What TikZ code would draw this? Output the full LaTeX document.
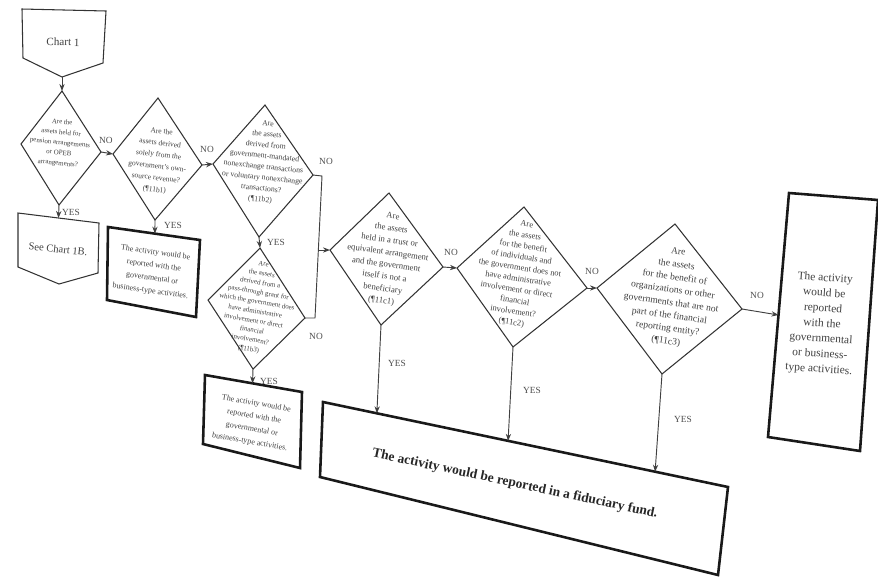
\documentclass[tikz,border=0pt]{standalone}
\usepackage{fontspec}
\setmainfont{Liberation Serif}
\usetikzlibrary{arrows.meta,calc}

\begin{document}
\begin{tikzpicture}[x=0.03cm,y=-0.03cm,
    >={Stealth[length=6pt,width=4.5pt]},
    outline/.style={draw=black!80, line width=0.9pt, line join=miter},
    heavy/.style={draw=black!90, line width=2.2pt, line join=miter},
    flow/.style={->, draw=black!75, line width=0.8pt},
    question/.style={align=center, text=black!75, inner sep=0pt},
    answer/.style={font=\fontsize{8}{9}\selectfont, text=black!70, inner sep=1pt}]
    \useasboundingbox (0,0) rectangle (878,579);
    % Chart 1 start tag
    \coordinate (c1-a) at (22,9); \coordinate (c1-b) at (106,11);
    \coordinate (c1-c) at (103,63); \coordinate (c1-s) at (62,77);
    \coordinate (c1-d) at (23,58);
    \draw[outline] (c1-a) -- (c1-b) -- (c1-c) -- (c1-s) -- (c1-d) -- cycle;
    \node[question, rotate=-1, font=\fontsize{9.5}{10}\selectfont] (c1-txt) at (63,42) {Chart 1};
    % Question 1: pension or OPEB
    \coordinate (q1-n) at (62,91); \coordinate (q1-e) at (101,152);
    \coordinate (q1-s) at (59,205); \coordinate (q1-w) at (21,144);
    \draw[outline] (q1-n) -- (q1-e) -- (q1-s) -- (q1-w) -- cycle;
    \node[question, rotate=-6, font=\fontsize{5.9}{8.8}\selectfont] (q1-txt) at (60,143)
        {Are the\\assets held for\\pension arrangements\\or OPEB\\arrangements?};
    % See Chart 1B tag
    \coordinate (c2-a) at (18,213); \coordinate (c2-b) at (99,223);
    \coordinate (c2-c) at (98,273); \coordinate (c2-s) at (59,284);
    \coordinate (c2-d) at (18,267);
    \draw[outline] (c2-a) -- (c2-b) -- (c2-c) -- (c2-s) -- (c2-d) -- cycle;
    \node[question, rotate=-6, font=\fontsize{9}{10}\selectfont] (c2-txt) at (58,249) {See Chart 1B.};
    % Question 2: own-source revenue
    \coordinate (q2-n) at (158,98); \coordinate (q2-e) at (202,165);
    \coordinate (q2-s) at (155,220); \coordinate (q2-w) at (113,154);
    \draw[outline] (q2-n) -- (q2-e) -- (q2-s) -- (q2-w) -- cycle;
    \node[question, rotate=-7, font=\fontsize{6.4}{10}\selectfont] (q2-txt) at (158,161)
        {Are the\\assets derived\\solely from the\\government's own-\\source revenue?\\(\P11b1)};
    % Box 1
    \coordinate (b1-nw) at (108,227); \coordinate (b1-ne) at (200,240);
    \coordinate (b1-se) at (196,317); \coordinate (b1-sw) at (107,300);
    \draw[heavy] (b1-nw) -- (b1-ne) -- (b1-se) -- (b1-sw) -- cycle;
    \node[question, rotate=-8, font=\fontsize{6.8}{11}\selectfont] (b1-txt) at (153,272)
        {The activity would be\\reported with the\\governmental or\\business-type activities.};
    % Question 3: nonexchange transactions
    \coordinate (q3-n) at (265,105); \coordinate (q3-e) at (313,175);
    \coordinate (q3-s) at (259,237); \coordinate (q3-w) at (213,164);
    \draw[outline] (q3-n) -- (q3-e) -- (q3-s) -- (q3-w) -- cycle;
    \node[question, rotate=-6, font=\fontsize{6.6}{9.3}\selectfont] (q3-txt) at (264,162)
        {Are\\the assets\\derived from\\government-mandated\\nonexchange transactions\\or voluntary nonexchange\\transactions?\\(\P11b2)};
    % Question 4: pass-through grant
    \coordinate (q4-n) at (260,248); \coordinate (q4-e) at (305,318);
    \coordinate (q4-s) at (253,369); \coordinate (q4-w) at (208,300);
    \draw[outline] (q4-n) -- (q4-e) -- (q4-s) -- (q4-w) -- cycle;
    \node[question, rotate=-10, font=\fontsize{5.9}{8.2}\selectfont] (q4-txt) at (256,307)
        {Are\\the assets\\derived from a\\pass-through grant for\\which the government does\\have administrative\\involvement or direct\\financial\\involvement?\\(\P11b3)};
    % Box 2
    \coordinate (b2-nw) at (205,375); \coordinate (b2-ne) at (302,392);
    \coordinate (b2-se) at (300,468); \coordinate (b2-sw) at (203,444);
    \draw[heavy] (b2-nw) -- (b2-ne) -- (b2-se) -- (b2-sw) -- cycle;
    \node[question, rotate=-10, font=\fontsize{6.8}{11}\selectfont] (b2-txt) at (253,423)
        {The activity would be\\reported with the\\governmental or\\business-type activities.};
    % Question 5: trust
    \coordinate (q5-n) at (389,193); \coordinate (q5-e) at (443,267);
    \coordinate (q5-s) at (381,325); \coordinate (q5-w) at (330,250);
    \draw[outline] (q5-n) -- (q5-e) -- (q5-s) -- (q5-w) -- cycle;
    \node[question, rotate=-8, font=\fontsize{7.4}{10.4}\selectfont] (q5-txt) at (387,259)
        {Are\\the assets\\held in a trust or\\equivalent arrangement\\and the government\\itself is not a\\beneficiary\\(\P11c1)};
    % Question 6: individuals
    \coordinate (q6-n) at (524,207); \coordinate (q6-e) at (587,288);
    \coordinate (q6-s) at (513,347); \coordinate (q6-w) at (457,268);
    \draw[outline] (q6-n) -- (q6-e) -- (q6-s) -- (q6-w) -- cycle;
    \node[question, rotate=-9, font=\fontsize{7.2}{9.4}\selectfont] (q6-txt) at (519,274)
        {Are\\the assets\\for the benefit\\of individuals and\\the government does not\\have administrative\\involvement or direct\\financial\\involvement?\\(\P11c2)};
    % Question 7: organizations
    \coordinate (q7-n) at (675,224); \coordinate (q7-e) at (742,309);
    \coordinate (q7-s) at (662,374); \coordinate (q7-w) at (597,288);
    \draw[outline] (q7-n) -- (q7-e) -- (q7-s) -- (q7-w) -- cycle;
    \node[question, rotate=-8, font=\fontsize{8.2}{11}\selectfont] (q7-txt) at (672,297)
        {Are\\the assets\\for the benefit of\\organizations or other\\governments that are not\\part of the financial\\reporting entity?\\(\P11c3)};
    % Right box
    \coordinate (b3-nw) at (789,193); \coordinate (b3-ne) at (878,200);
    \coordinate (b3-se) at (860,451); \coordinate (b3-sw) at (768,437);
    \draw[heavy] (b3-nw) -- (b3-ne) -- (b3-se) -- (b3-sw) -- cycle;
    \node[question, rotate=-4, font=\fontsize{9.8}{13}\selectfont] (b3-txt) at (822,324)
        {The activity\\would be\\reported\\with the\\governmental\\or business-\\type activities.};
    % Fiduciary fund box
    \coordinate (fund-nw) at (323,402); \coordinate (fund-ne) at (728,487);
    \coordinate (fund-se) at (718,575); \coordinate (fund-sw) at (320,477);
    \draw[heavy] (fund-nw) -- (fund-ne) -- (fund-se) -- (fund-sw) -- cycle;
    \node[question, rotate=-12, font=\fontsize{11.5}{12}\bfseries, text=black!85] (fund-txt) at (515,484)
        {The activity would be reported in a fiduciary fund.};
    % Junction of the two NO lines
    \coordinate (join-top) at (322,176);
    \coordinate (join-mid) at (319,250);
    \coordinate (join-bot) at (315,318);
    \draw[draw=black!75, line width=0.8pt] (q3-e) -- (join-top) -- (join-bot) -- (q4-e);
    % Connectors
    \draw[flow] (c1-s) -- (q1-n);
    \draw[flow] (q1-e) -- (q2-w);
    \draw[flow] (q1-s) -- ($(c2-a)!0.5!(c2-b)$);
    \draw[flow] (q2-s) -- ($(b1-nw)!0.51!(b1-ne)$);
    \draw[flow] (q2-e) -- (q3-w);
    \draw[flow] (q3-s) -- (q4-n);
    \draw[flow] (q4-s) -- ($(b2-nw)!0.49!(b2-ne)$);
    \draw[flow] (join-mid) -- (q5-w);
    \draw[flow] (q5-e) -- (q6-w);
    \draw[flow] (q6-e) -- (q7-w);
    \draw[flow] (q7-e) -- ($(b3-nw)!0.5!(b3-sw)$);
    \draw[flow] (q5-s) -- ($(fund-nw)!0.133!(fund-ne)$);
    \draw[flow] (q6-s) -- ($(fund-nw)!0.457!(fund-ne)$);
    \draw[flow] (q7-s) -- ($(fund-nw)!0.82!(fund-ne)$);
    % Labels
    \node[answer] (no1) at (106,140) {NO};
    \node[answer] (yes1) at (71,212) {YES};
    \node[answer] (no2) at (207,149) {NO};
    \node[answer] (yes2) at (173,225) {YES};
    \node[answer] (no3) at (326,161) {NO};
    \node[answer] (yes3) at (276,242) {YES};
    \node[answer] (no4) at (316,336) {NO};
    \node[answer] (yes4) at (269,381) {YES};
    \node[answer] (no5) at (451,252) {NO};
    \node[answer] (yes5) at (397,363) {YES};
    \node[answer] (no6) at (592,271) {NO};
    \node[answer] (yes6) at (532,390) {YES};
    \node[answer] (no7) at (757,295) {NO};
    \node[answer] (yes7) at (683,419) {YES};
\end{tikzpicture}
\end{document}
